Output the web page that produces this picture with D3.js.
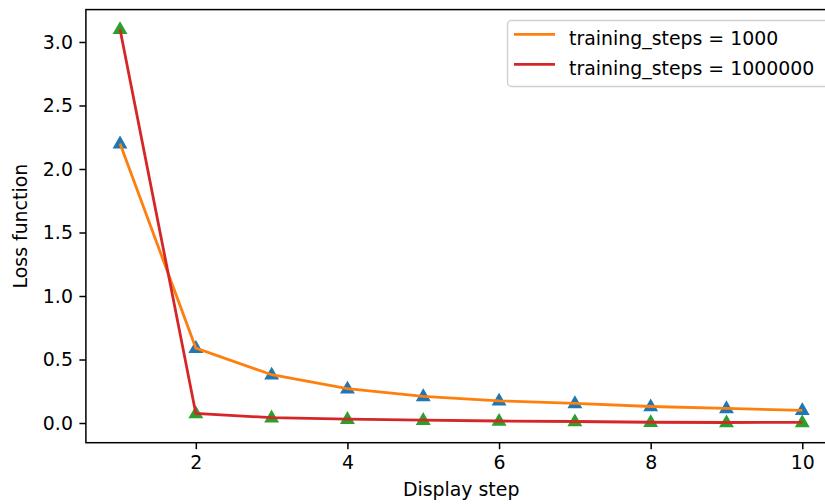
<!DOCTYPE html>
<html>
<head>
<meta charset="utf-8">
<script src="https://cdn.jsdelivr.net/npm/d3@7"></script>
<style>
body { margin: 0; background: #fff; }
svg { font-family: "DejaVu Sans", sans-serif; }
</style>
</head>
<body>
<div id="con"></div>
<script>
var steps = [1, 2, 3, 4, 5, 6, 7, 8, 9, 10];
var loss_1000 = [2.2, 0.59, 0.38, 0.27, 0.21, 0.175, 0.155, 0.13, 0.115, 0.10];
var loss_1000000 = [3.1, 0.075, 0.042, 0.03, 0.022, 0.016, 0.012, 0.006, 0.004, 0.005];
var series_labels = ['training_steps = 1000', 'training_steps = 1000000'];
var x_ticks = [2, 4, 6, 8, 10];
var y_ticks = [0, 0.5, 1.0, 1.5, 2.0, 2.5, 3.0];

var width = 825, height = 504;
var fs = '18.9px';

var svg = d3.select('#con').append('svg')
    .attr('width', width)
    .attr('height', height);

var x = d3.scaleLinear().domain([0.55, 10.45]).range([85.9, 836.4]);
var y = d3.scaleLinear().domain([-0.155, 3.255]).range([442.7, 9.6]);

// axes
var xAxis = d3.axisBottom(x).tickValues(x_ticks).tickSize(6.5).tickPadding(6.5).tickFormat(d3.format('d'));
var yAxis = d3.axisLeft(y).tickValues(y_ticks).tickSize(6.5).tickPadding(6.5).tickFormat(d3.format('.1f'));

var gx = svg.append('g').attr('transform', 'translate(0,' + y.range()[0] + ')').call(xAxis);
var gy = svg.append('g').attr('transform', 'translate(' + x.range()[0] + ',0)').call(yAxis);

[gx, gy].forEach(function(g) {
    g.select('.domain').remove();
    g.selectAll('line').attr('stroke', '#000').attr('stroke-width', 1.5);
    g.selectAll('text').attr('fill', '#000').style('font-size', fs).style('font-family', '"DejaVu Sans"');
});

var plot = svg.append('g');

var line = d3.line().x(function(d, i) { return x(steps[i]); }).y(function(d) { return y(d); });
var tri = d3.symbol().type(d3.symbolTriangle).size(60);

function markers(vals, color) {
    plot.append('g').selectAll('path').data(vals).enter().append('path')
        .attr('d', tri)
        .attr('transform', function(d, i) { return 'translate(' + x(steps[i]) + ',' + (y(d) + 0.5) + ')'; })
        .attr('fill', color).attr('stroke', color).attr('stroke-width', 1.8);
}

markers(loss_1000, '#1f77b4');
plot.append('path').datum(loss_1000).attr('d', line)
    .attr('fill', 'none').attr('stroke', '#ff7f0e').attr('stroke-width', 2.8);
markers(loss_1000000, '#2ca02c');
plot.append('path').datum(loss_1000000).attr('d', line)
    .attr('fill', 'none').attr('stroke', '#d62728').attr('stroke-width', 2.8);

// frame
svg.append('rect')
    .attr('x', x.range()[0]).attr('y', y.range()[1])
    .attr('width', x.range()[1] - x.range()[0])
    .attr('height', y.range()[0] - y.range()[1])
    .attr('fill', 'none').attr('stroke', '#000').attr('stroke-width', 1.5);

// labels
svg.append('text').attr('x', (x.range()[0] + x.range()[1]) / 2).attr('y', 496)
    .attr('text-anchor', 'middle').style('font-size', fs).text('Display step');
svg.append('text').attr('transform', 'translate(27,' + ((y.range()[0] + y.range()[1]) / 2) + ') rotate(-90)')
    .attr('text-anchor', 'middle').style('font-size', fs).text('Loss function');

// legend
var lg = svg.append('g');
lg.append('rect').attr('x', 507.5).attr('y', 20.5).attr('width', 330).attr('height', 66)
    .attr('rx', 4).attr('fill', '#fff').attr('fill-opacity', 0.8).attr('stroke', '#d0d0d0').attr('stroke-width', 1.4);
var legend_colors = ['#ff7f0e', '#d62728'];
series_labels.forEach(function(lbl, i) {
    var yy = 34.3 + i * 30;
    lg.append('line').attr('x1', 514).attr('x2', 555).attr('y1', yy).attr('y2', yy)
        .attr('stroke', legend_colors[i]).attr('stroke-width', 2.8);
    lg.append('text').attr('x', 569).attr('y', yy + 10.8).style('font-size', fs).text(lbl);
});
</script>
</body>
</html>
